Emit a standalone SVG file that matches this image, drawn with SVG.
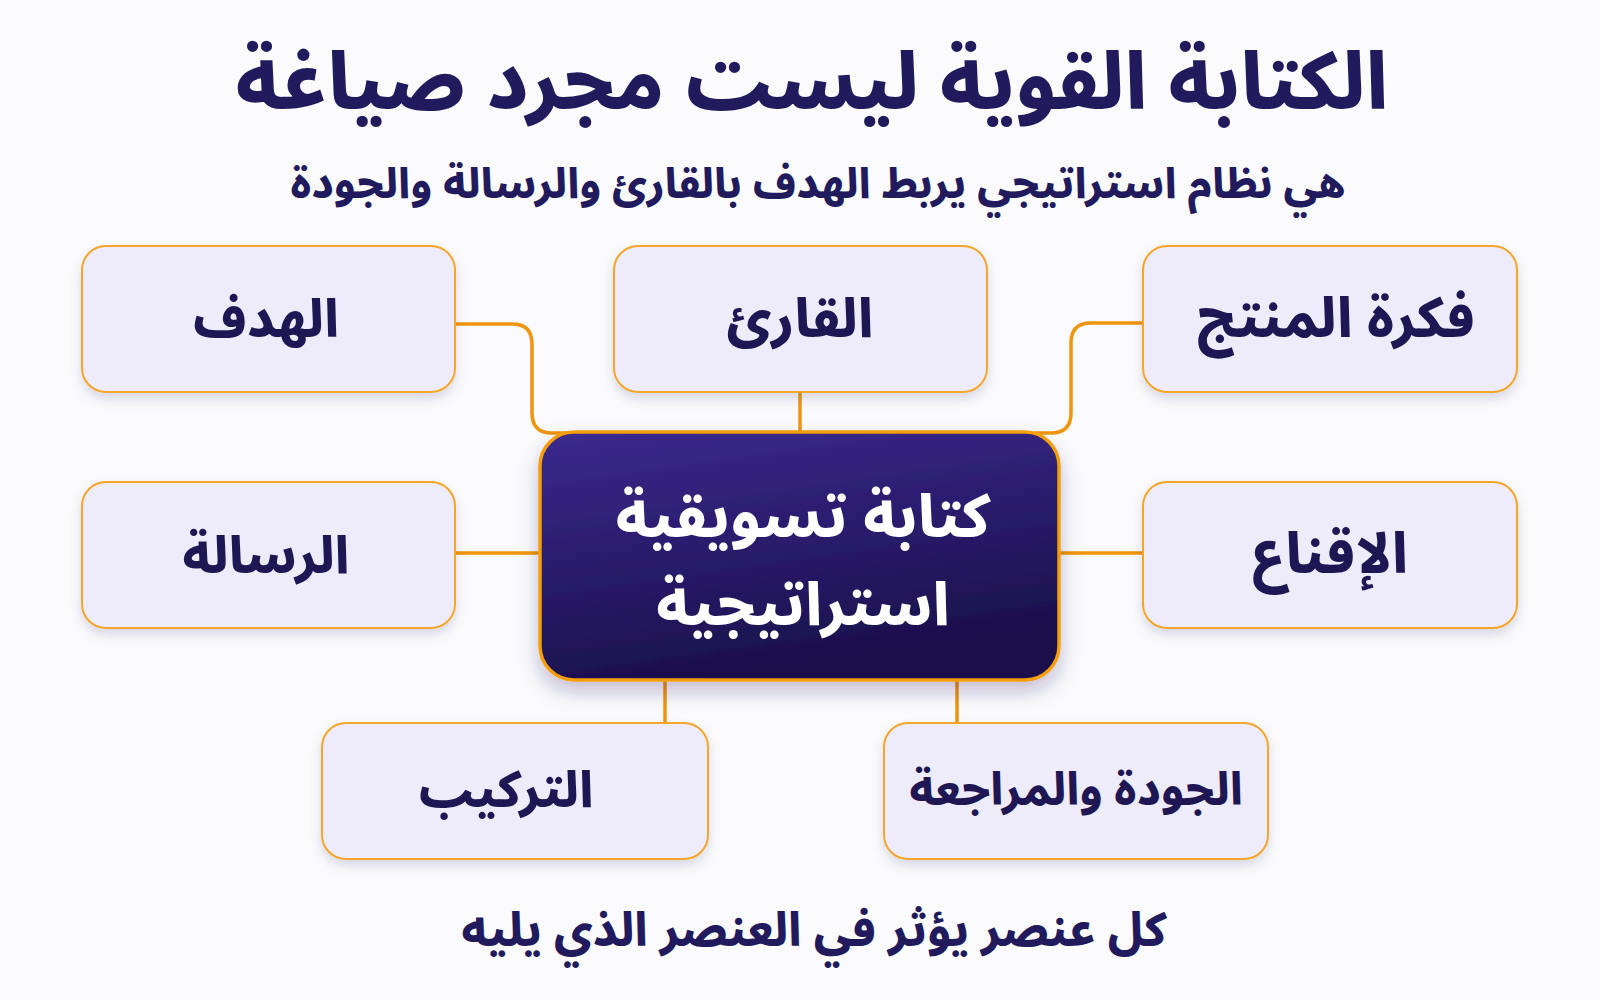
<svg xmlns="http://www.w3.org/2000/svg" width="1600" height="1000" viewBox="0 0 1600 1000">
  <defs>
    <linearGradient id="centerGrad" x1="0" y1="0" x2="0.3" y2="1">
      <stop offset="0" stop-color="#3b2a8e"/>
      <stop offset="1" stop-color="#1a0f4c"/>
    </linearGradient>
    <filter id="shadow" x="-10%" y="-10%" width="120%" height="140%">
      <feDropShadow dx="0" dy="6" stdDeviation="6" flood-color="#1b1052" flood-opacity="0.14"/>
    </filter>
    <filter id="shadowC" x="-10%" y="-10%" width="120%" height="140%">
      <feDropShadow dx="0" dy="10" stdDeviation="10" flood-color="#1b1052" flood-opacity="0.25"/>
    </filter>
  </defs>
  <style>
    .ar { font-family: "Noto Sans Arabic", "DejaVu Sans", sans-serif; font-weight: 800; text-anchor: middle; direction: rtl; }
    .title { font-size: 79px; fill: #211a5c; }
    .sub { font-size: 42px; fill: #211a5c; }
    .foot { font-size: 46.5px; fill: #211a5c; }
    .node rect { fill: #eeebfb; stroke: #f4a62a; stroke-width: 2; filter: url(#shadow); }
    .label { font-size: 52px; fill: #1f1754; }
    .clabel { font-size: 59.5px; fill: #ffffff; }
    .conn { fill: none; stroke: #f0950e; stroke-width: 3.5; stroke-linecap: round; }
  </style>
  <rect x="0" y="0" width="1600" height="1000" fill="#fbfbfd"/>

  <text class="ar title" x="812" y="109">الكتابة القوية ليست مجرد صياغة</text>
  <text class="ar sub" x="818" y="198">هي نظام استراتيجي يربط الهدف بالقارئ والرسالة والجودة</text>

  <g id="connectors">
    <path class="conn" d="M455,324 H512 Q532,324 532,344 V413 Q532,433 552,433 H570"/>
    <path class="conn" d="M1143,323 H1091 Q1071,323 1071,343 V413 Q1071,433 1051,433 H1035"/>
    <path class="conn" d="M800,392 V432"/>
    <path class="conn" d="M455,553 H540"/>
    <path class="conn" d="M1059,553 H1143"/>
    <path class="conn" d="M665,680 V723"/>
    <path class="conn" d="M957,680 V723"/>
  </g>

  <g id="node-hadaf" class="node">
    <rect x="82" y="246" width="373" height="146" rx="24"/>
    <text class="ar label" x="266" y="337">الهدف</text>
  </g>
  <g id="node-qari" class="node">
    <rect x="614" y="246" width="373" height="146" rx="24"/>
    <text class="ar label" x="800" y="337" style="font-size:54px">القارئ</text>
  </g>
  <g id="node-fikra" class="node">
    <rect x="1143" y="246" width="374" height="146" rx="24"/>
    <text class="ar label" x="1336" y="337" style="font-size:55px">فكرة المنتج</text>
  </g>
  <g id="node-risala" class="node">
    <rect x="82" y="482" width="373" height="146" rx="24"/>
    <text class="ar label" x="266" y="573" style="font-size:51.5px">الرسالة</text>
  </g>
  <g id="node-iqnaa" class="node">
    <rect x="1143" y="482" width="374" height="146" rx="24"/>
    <text class="ar label" x="1330" y="573" style="font-size:56px">الإقناع</text>
  </g>
  <g id="node-tarkib" class="node">
    <rect x="322" y="723" width="386" height="136" rx="24"/>
    <text class="ar label" x="506" y="807" style="font-size:50px">التركيب</text>
  </g>
  <g id="node-jawda" class="node">
    <rect x="884" y="723" width="384" height="136" rx="24"/>
    <text class="ar label" x="1076" y="805" style="font-size:45px">الجودة والمراجعة</text>
  </g>

  <g id="node-center">
    <rect x="540" y="432" width="519" height="248" rx="34" fill="url(#centerGrad)" stroke="#f59e0b" stroke-width="3.5" filter="url(#shadowC)"/>
    <text class="ar clabel" x="803" y="537">كتابة تسويقية</text>
    <text class="ar clabel" x="803" y="625">استراتيجية</text>
  </g>

  <text class="ar foot" x="814" y="946">كل عنصر يؤثر في العنصر الذي يليه</text>
</svg>
